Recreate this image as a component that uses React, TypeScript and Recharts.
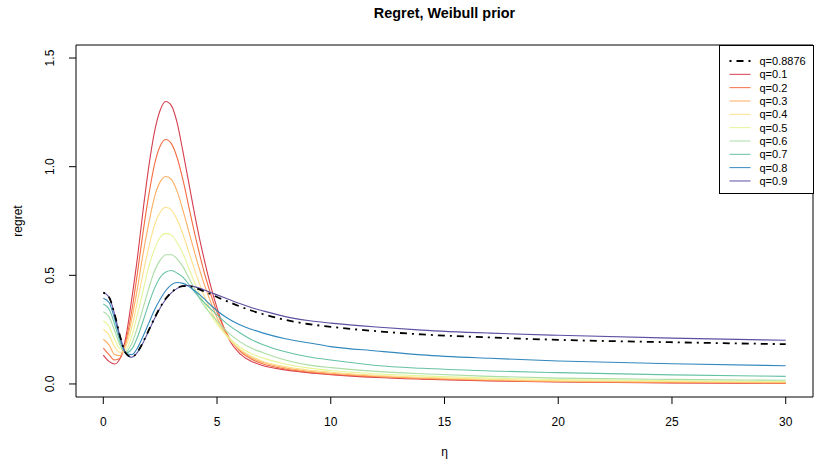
import React from "react";
import {
  LineChart,
  Line,
  XAxis,
  YAxis,
  ReferenceArea,
} from "recharts";

// eta grid (x values) and regret curves
const eta = [
  0, 0.25, 0.5, 0.75, 1, 1.25, 1.5, 1.75, 2, 2.25, 2.5, 2.75, 3, 3.25, 3.5,
  3.75, 4, 4.25, 4.5, 4.75, 5, 5.5, 6, 6.5, 7, 8, 9, 10, 12, 14, 17, 20, 25, 30,
];

const q01 = [
  0.133, 0.104, 0.092, 0.12, 0.22, 0.39, 0.58, 0.8, 1.0, 1.16, 1.26, 1.3, 1.28,
  1.2, 1.07, 0.93, 0.79, 0.66, 0.545, 0.44, 0.35, 0.21, 0.14, 0.105, 0.085,
  0.065, 0.052, 0.043, 0.03, 0.022, 0.014, 0.009, 0.005, 0.003,
];
const q02 = [
  0.165, 0.135, 0.11, 0.12, 0.2, 0.335, 0.51, 0.7, 0.87, 1.01, 1.095, 1.125,
  1.105, 1.04, 0.94, 0.82, 0.7, 0.59, 0.49, 0.405, 0.33, 0.22, 0.152, 0.115,
  0.093, 0.069, 0.055, 0.045, 0.033, 0.024, 0.016, 0.01, 0.006, 0.004,
];
const q03 = [
  0.206, 0.18, 0.135, 0.13, 0.19, 0.3, 0.44, 0.6, 0.74, 0.86, 0.93, 0.955, 0.94,
  0.885, 0.8, 0.705, 0.61, 0.52, 0.44, 0.37, 0.305, 0.215, 0.158, 0.122, 0.1,
  0.074, 0.059, 0.049, 0.036, 0.027, 0.018, 0.012, 0.008, 0.006,
];
const q04 = [
  0.252, 0.225, 0.17, 0.145, 0.175, 0.26, 0.38, 0.51, 0.63, 0.73, 0.79, 0.813,
  0.8, 0.755, 0.69, 0.61, 0.53, 0.455, 0.39, 0.335, 0.285, 0.21, 0.16, 0.128,
  0.105, 0.08, 0.064, 0.054, 0.04, 0.031, 0.021, 0.015, 0.011, 0.009,
];
const q05 = [
  0.291, 0.265, 0.205, 0.16, 0.16, 0.22, 0.32, 0.43, 0.54, 0.62, 0.675, 0.693,
  0.685, 0.65, 0.6, 0.535, 0.47, 0.41, 0.36, 0.315, 0.275, 0.215, 0.17, 0.14,
  0.12, 0.092, 0.074, 0.062, 0.047, 0.037, 0.027, 0.02, 0.015, 0.012,
];
const q06 = [
  0.332, 0.31, 0.245, 0.175, 0.15, 0.185, 0.26, 0.35, 0.44, 0.52, 0.57, 0.595,
  0.595, 0.575, 0.54, 0.49, 0.44, 0.39, 0.35, 0.32, 0.29, 0.235, 0.195, 0.165,
  0.145, 0.11, 0.088, 0.075, 0.058, 0.047, 0.035, 0.027, 0.021, 0.017,
];
const q07 = [
  0.368, 0.345, 0.275, 0.19, 0.143, 0.16, 0.215, 0.29, 0.37, 0.44, 0.49, 0.515,
  0.522, 0.51, 0.492, 0.46, 0.425, 0.395, 0.368, 0.342, 0.318, 0.272, 0.236,
  0.205, 0.182, 0.148, 0.125, 0.11, 0.085, 0.072, 0.06, 0.052, 0.042, 0.035,
];
const q08 = [
  0.394, 0.375, 0.3, 0.205, 0.14, 0.135, 0.165, 0.22, 0.28, 0.34, 0.39, 0.43,
  0.457, 0.467, 0.463, 0.45, 0.43, 0.41, 0.385, 0.36, 0.337, 0.3, 0.272, 0.252,
  0.235, 0.208, 0.19, 0.172, 0.152, 0.134, 0.118, 0.106, 0.093, 0.084,
];
const q09 = [
  0.421, 0.4, 0.32, 0.215, 0.14, 0.123, 0.145, 0.19, 0.245, 0.3, 0.35, 0.39,
  0.42, 0.44, 0.452, 0.453, 0.448, 0.44, 0.43, 0.42, 0.41, 0.39, 0.37, 0.352,
  0.337, 0.31, 0.292, 0.28, 0.262, 0.248, 0.234, 0.224, 0.211, 0.201,
];
const qOpt = [
  0.42, 0.4, 0.32, 0.215, 0.14, 0.124, 0.147, 0.193, 0.248, 0.303, 0.353,
  0.393, 0.422, 0.441, 0.45, 0.45, 0.444, 0.434, 0.423, 0.412, 0.4, 0.378,
  0.357, 0.338, 0.322, 0.295, 0.276, 0.263, 0.243, 0.228, 0.214, 0.203, 0.192,
  0.183,
];

const seriesNames = [
  "q=0.1", "q=0.2", "q=0.3", "q=0.4", "q=0.5", "q=0.6", "q=0.7", "q=0.8", "q=0.9",
];
const seriesValues = [q01, q02, q03, q04, q05, q06, q07, q08, q09];
const colors = [
  "#D53E4F", "#F46D43", "#FDAE61", "#FEE08B", "#E6F598",
  "#ABDDA4", "#66C2A5", "#3288BD", "#5E4FA2",
];
const optName = "q=0.8876";

const xTicks = [0, 5, 10, 15, 20, 25, 30];
const yTicks = [0, 0.5, 1, 1.5];

const font = "'Liberation Sans', Arial, Helvetica, sans-serif";

const data = eta.map((e, i) => {
  const row: Record<string, number> = { eta: e, opt: qOpt[i] };
  seriesValues.forEach((s, k) => {
    row["s" + k] = s[i];
  });
  return row;
});

const YTick = (props: any) => {
  const { x, y, payload } = props;
  return (
    <text
      x={x}
      y={y}
      transform={`rotate(-90, ${x}, ${y})`}
      textAnchor="middle"
      fontSize={12}
      fontFamily={font}
      fill="#000"
    >
      {Number(payload.value).toFixed(1)}
    </text>
  );
};

const XTitle = (props: any) => {
  const vb = props.viewBox || {};
  return (
    <text
      x={vb.x + vb.width / 2}
      y={vb.y + vb.height - 9}
      textAnchor="middle"
      fontSize={12}
      fontFamily={font}
      fill="#000000"
      style={{ fill: "#000000" }}
    >
      η
    </text>
  );
};

function LegendBox() {
  const rowH = 13.33;
  return (
    <svg
      width={95}
      height={150}
      style={{ position: "absolute", left: 718.5, top: 44.5, overflow: "visible" }}
    >
      <rect x={0.5} y={0.5} width={94} height={148} fill="#fff" stroke="#000" />
      {[optName, ...seriesNames].map((name, i) => {
        const y = 16 + i * rowH;
        const isOpt = i === 0;
        return (
          <g key={name}>
            <line
              x1={10.5}
              x2={31.5}
              y1={y}
              y2={y}
              stroke={isOpt ? "#000" : colors[i - 1]}
              strokeWidth={isOpt ? 2 : 1}
              strokeDasharray={isOpt ? "2 5 7 5" : undefined}
            />
            <text
              x={40.5}
              y={y + 4}
              fontSize={11}
              fontFamily={font}
              fill="#000"
            >
              {name}
            </text>
          </g>
        );
      })}
    </svg>
  );
}

export default function App() {
  return (
    <div
      style={{
        position: "absolute",
        left: 0,
        top: 0,
        width: 818,
        height: 465,
        background: "#fff",
      }}
    >
      <div
        style={{
          position: "absolute",
          left: 0,
          width: 889,
          top: 5,
          textAlign: "center",
          fontFamily: font,
          fontWeight: "bold",
          fontSize: 14.4,
        }}
      >
        Regret, Weibull prior
      </div>
      <LineChart
        width={818}
        height={465}
        data={data}
        margin={{ top: 45, right: 5, left: 0, bottom: 0 }}
      >
        <XAxis
          dataKey="eta"
          type="number"
          domain={[-1.2, 31.2]}
          ticks={xTicks}
          allowDataOverflow
          height={68}
          axisLine={false}
          tickSize={7}
          tickMargin={13}
          tickLine={{ stroke: "#000" }}
          tick={{ fill: "#000", fontSize: 12, fontFamily: font }}
          label={<XTitle />}
        />
        <YAxis
          type="number"
          domain={[-0.06, 1.56]}
          ticks={yTicks}
          allowDataOverflow
          width={76}
          axisLine={false}
          tickSize={7}
          tickMargin={15}
          tickLine={{ stroke: "#000" }}
          tick={<YTick />}
          label={{
            value: "regret",
            angle: -90,
            position: "insideLeft",
            offset: 18,
            fill: "#000",
            fontSize: 12,
            fontFamily: font,
            style: { textAnchor: "middle" },
          }}
        />
        {seriesValues.map((_, k) => (
          <Line
            key={k}
            dataKey={"s" + k}
            type="monotone"
            stroke={colors[k]}
            strokeWidth={1.1}
            dot={false}
            isAnimationActive={false}
          />
        ))}
        <Line
          dataKey="opt"
          type="monotone"
          stroke="#000"
          strokeWidth={1.8}
          strokeDasharray="2 5 7 5"
          dot={false}
          isAnimationActive={false}
        />
        <ReferenceArea
          x1={-1.2}
          x2={31.2}
          y1={-0.06}
          y2={1.56}
          fill="none"
          stroke="#000"
          strokeWidth={1}
          ifOverflow="visible"
        />
      </LineChart>
      <LegendBox />
    </div>
  );
}
